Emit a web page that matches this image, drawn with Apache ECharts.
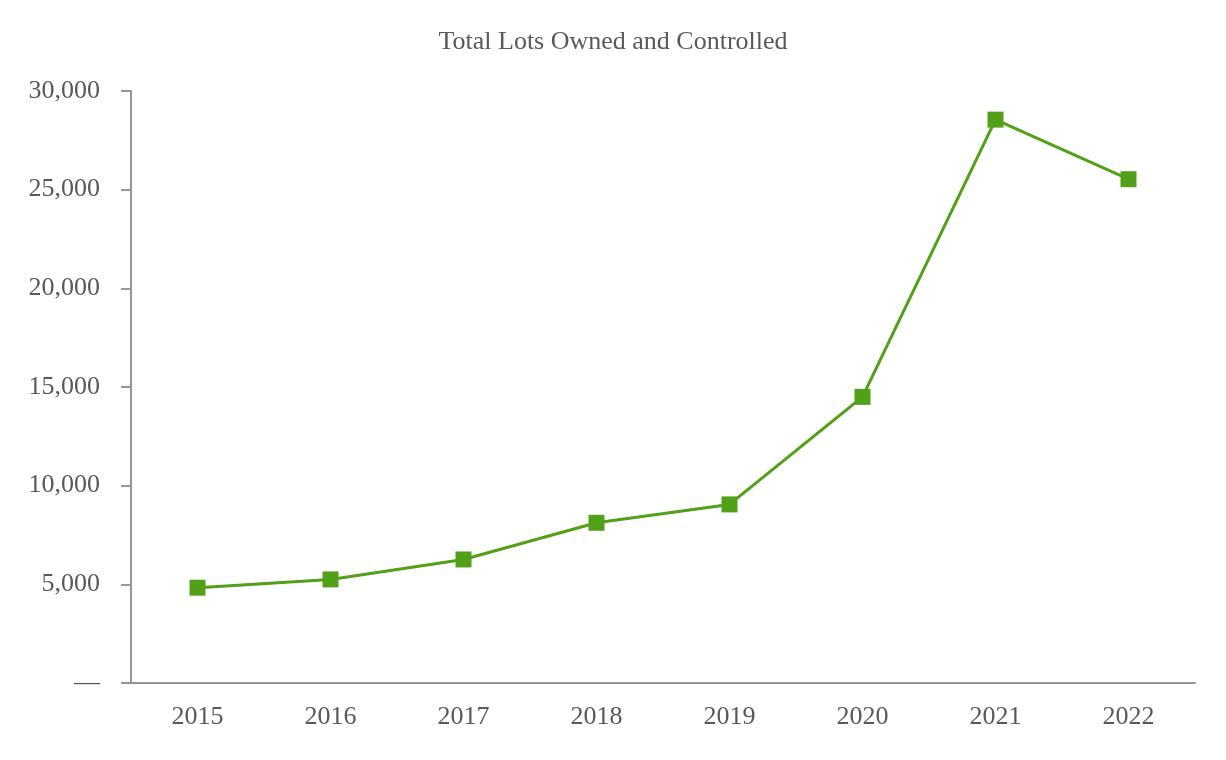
<!DOCTYPE html>
<html>
<head>
<meta charset="utf-8">
<script src="https://cdn.jsdelivr.net/npm/echarts@6/dist/echarts.min.js"></script>
<style>
html,body{margin:0;padding:0;background:#fff;}
#chart{width:1226px;height:760px;}
</style>
</head>
<body>
<div id="chart"></div>
<script>
const title = "Total Lots Owned and Controlled";
const categories = ["2015","2016","2017","2018","2019","2020","2021","2022"];
const lots = [4830, 5250, 6260, 8120, 9050, 14500, 28550, 25530];
const yTicks = [0, 5000, 10000, 15000, 20000, 25000, 30000];

const font = "'Liberation Serif', 'Times New Roman', serif";
const chart = echarts.init(document.getElementById('chart'));
chart.setOption({
  animation: false,
  backgroundColor: '#fff',
  title: {
    text: title, left: 'center', top: 24,
    textStyle: {fontFamily: font, fontSize: 26, fontWeight: 'normal', color: '#595959'}
  },
  grid: {left: 131, right: 31, top: 91, bottom: 77, containLabel: false},
  xAxis: {
    type: 'category', data: categories, boundaryGap: true,
    axisLine: {lineStyle: {color: '#969696', width: 2}},
    axisTick: {alignWithLabel: true, length: 10, lineStyle: {color: '#969696', width: 2}},
    axisLabel: {fontFamily: font, fontSize: 26, color: '#595959', margin: 21}
  },
  yAxis: {
    type: 'value', min: yTicks[0], max: yTicks[yTicks.length-1], interval: 5000,
    axisLine: {show: true, lineStyle: {color: '#969696', width: 2}},
    axisTick: {show: true, length: 10, lineStyle: {color: '#969696', width: 2}},
    splitLine: {show: false},
    axisLabel: {
      fontFamily: font, fontSize: 26, color: '#595959', margin: 31,
      padding: [4, 0, 0, 0],
      formatter: v => v === 0 ? '—' : v.toLocaleString('en-US')
    }
  },
  series: [{
    type: 'line', data: lots,
    symbol: 'rect', symbolSize: 16,
    lineStyle: {color: '#52a018', width: 3},
    itemStyle: {color: '#52a018'}
  }]
});
</script>
</body>
</html>
